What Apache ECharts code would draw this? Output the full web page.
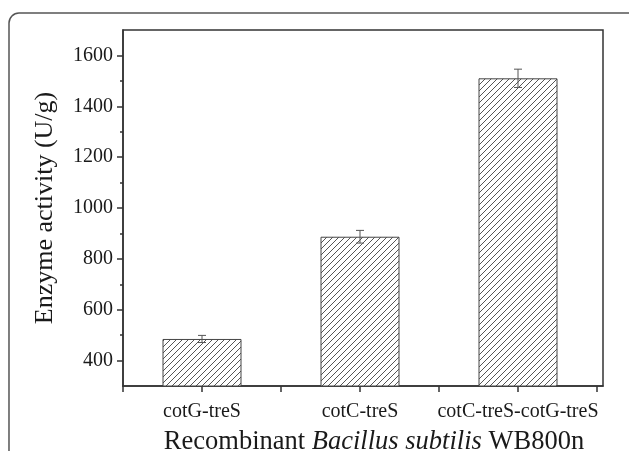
<!DOCTYPE html>
<html>
<head>
<meta charset="utf-8">
<script src="https://cdn.jsdelivr.net/npm/echarts@6/dist/echarts.min.js"></script>
<style>
html, body { margin: 0; padding: 0; background: #fff; }
#chart { width: 629px; height: 451px; }
</style>
</head>
<body>
<div id="chart"></div>
<script>
// data
var categories = ['cotG-treS', 'cotC-treS', 'cotC-treS-cotG-treS'];
var activity = [485, 887, 1510];
var errors = [14, 25, 36];
var majorTicks = [400, 600, 800, 1000, 1200, 1400, 1600];
var minorTicks = [500, 700, 900, 1100, 1300, 1500];

var FONT = 'Liberation Serif';

// category centres / boundaries on a plain value axis
var centres = categories.map(function (c, i) { return i + 0.5; });
var xTicks = [];
for (var i = 0; i <= categories.length * 2; i++) xTicks.push(i / 2);

// hatch pattern for the bars
function hatch() {
    var s = 6;
    var cv = document.createElement('canvas');
    cv.width = s; cv.height = s;
    var ctx = cv.getContext('2d');
    ctx.fillStyle = '#fff';
    ctx.fillRect(0, 0, s, s);
    ctx.strokeStyle = '#555';
    ctx.lineWidth = 1;
    ctx.beginPath();
    ctx.moveTo(-1, s + 1); ctx.lineTo(s + 1, -1);
    ctx.moveTo(-1, 1); ctx.lineTo(1, -1);
    ctx.moveTo(s - 1, s + 1); ctx.lineTo(s + 1, s - 1);
    ctx.stroke();
    return cv;
}

var chart = echarts.init(document.getElementById('chart'), null, { renderer: 'canvas' });

var option = {
    animation: false,
    backgroundColor: '#fff',
    graphic: [{
        type: 'rect',
        shape: { x: 9, y: 13, width: 640, height: 470, r: 10 },
        style: { fill: 'none', stroke: '#555', lineWidth: 1.5 },
        silent: true
    }],
    grid: {
        left: 123, top: 30, right: 26, bottom: 65,
        outerBoundsMode: 'none',
        containLabel: false,
        show: true, borderColor: '#333', borderWidth: 1.5,
        backgroundColor: 'transparent'
    },
    xAxis: {
        type: 'value',
        min: 0,
        max: 480 / 158,
        interval: 0.5,
        name: 'Recombinant {i|Bacillus subtilis} WB800n',
        nameLocation: 'middle',
        nameGap: 43,
        nameTextStyle: {
            fontFamily: FONT, fontSize: 26.5, color: '#1a1a1a', padding: [0, 0, 0, 22],
            rich: { i: { fontFamily: FONT, fontSize: 26.5, fontStyle: 'italic', color: '#1a1a1a' } }
        },
        axisLine: { show: true, onZero: false, lineStyle: { color: '#333', width: 1.5 } },
        axisTick: { show: true, length: 6, customValues: xTicks, lineStyle: { color: '#333', width: 1.5 } },
        axisLabel: {
            customValues: centres,
            formatter: function (v) { return categories[Math.round(v - 0.5)]; },
            fontFamily: FONT, fontSize: 20, color: '#1a1a1a', margin: 16
        },
        splitLine: { show: false }
    },
    yAxis: [{
        type: 'value',
        min: 300,
        max: 1700,
        interval: 100,
        position: 'left',
        name: 'Enzyme activity (U/g)',
        nameLocation: 'middle',
        nameGap: 65,
        nameRotate: 90,
        nameTextStyle: { fontFamily: FONT, fontSize: 26, color: '#1a1a1a' },
        axisLine: { show: true, onZero: false, lineStyle: { color: '#333', width: 1.5 } },
        axisTick: { show: true, length: 6, customValues: majorTicks, lineStyle: { color: '#333', width: 1.5 } },
        axisLabel: {
            customValues: majorTicks,
            formatter: function (v) { return String(v); },
            fontFamily: FONT, fontSize: 20, color: '#1a1a1a', margin: 10
        },
        splitLine: { show: false }
    }, {
        type: 'value',
        min: 300,
        max: 1700,
        interval: 100,
        position: 'left',
        axisLine: { show: false },
        axisTick: { show: true, length: 3, customValues: minorTicks, lineStyle: { color: '#333', width: 1.5 } },
        axisLabel: { show: false },
        splitLine: { show: false }
    }],
    series: [{
        type: 'bar',
        barWidth: 79,
        clip: true,
        data: activity.map(function (v, i) { return [centres[i], v]; }),
        itemStyle: {
            color: { image: hatch(), repeat: 'repeat' },
            borderColor: '#444',
            borderWidth: 1
        }
    }, {
        type: 'custom',
        data: activity.map(function (v, i) { return [centres[i], v - errors[i], v + errors[i]]; }),
        renderItem: function (params, api) {
            var lo = api.coord([api.value(0), api.value(1)]);
            var hi = api.coord([api.value(0), api.value(2)]);
            var w = 4;
            var st = { stroke: '#555', lineWidth: 1 };
            return {
                type: 'group',
                children: [
                    { type: 'line', shape: { x1: hi[0], y1: hi[1], x2: lo[0], y2: lo[1] }, style: st },
                    { type: 'line', shape: { x1: hi[0] - w, y1: hi[1], x2: hi[0] + w, y2: hi[1] }, style: st },
                    { type: 'line', shape: { x1: lo[0] - w, y1: lo[1], x2: lo[0] + w, y2: lo[1] }, style: st }
                ]
            };
        },
        z: 5
    }]
};

chart.setOption(option);
window.addEventListener('resize', chart.resize);
</script>
</body>
</html>
